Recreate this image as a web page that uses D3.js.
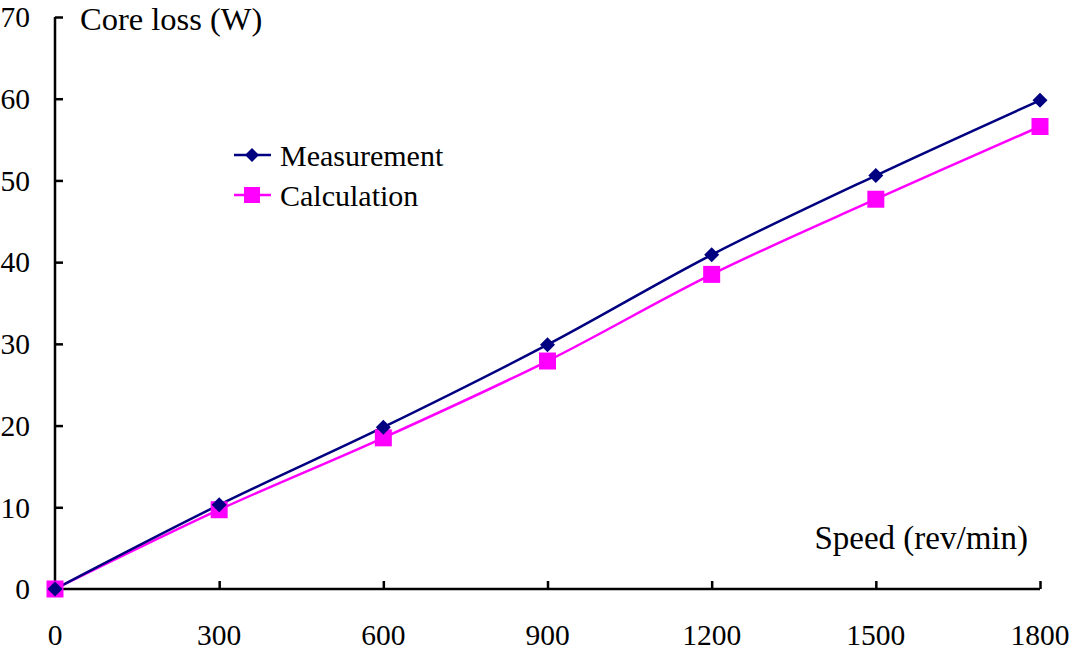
<!DOCTYPE html>
<html><head><meta charset="utf-8">
<script src="https://cdn.jsdelivr.net/npm/d3@7"></script>
<style>body{margin:0;background:#fff}svg{display:block}text{font-family:"Liberation Serif","Times New Roman",serif;fill:#000}</style>
</head><body>
<svg id="c" width="1070" height="651"></svg>
<script>
const speeds = [0, 300, 600, 900, 1200, 1500, 1800];
const measurement = [0, 10.3, 19.8, 29.9, 40.9, 50.6, 59.8];
const calculation = [0, 9.7, 18.5, 27.9, 38.5, 47.7, 56.6];
const xTicks = [0, 300, 600, 900, 1200, 1500, 1800];
const yTicks = [0, 10, 20, 30, 40, 50, 60, 70];

const svg = d3.select("#c");
const x = d3.scaleLinear().domain([0, 1800]).range([55, 1040]);
const y = d3.scaleLinear().domain([0, 70]).range([589, 17]);
const fs = 29.5;

// axes
const yAx = svg.append("g").attr("transform","translate(55,0)")
  .call(d3.axisRight(y).tickValues(yTicks).tickSize(8).tickFormat(""));
yAx.select(".domain").attr("d", `M0,${y(70)}V${y(0)}`).attr("stroke","#000").attr("stroke-width",2.5);
yAx.selectAll(".tick line").attr("stroke","#000").attr("stroke-width",2.5);
yAx.selectAll(".tick").filter(d=>d===0).remove();

const xAx = svg.append("g").attr("transform","translate(0,589)")
  .call(d3.axisTop(x).tickValues(xTicks).tickSize(8).tickFormat(""));
xAx.select(".domain").attr("d", `M${x(0)},0H${x(1800)}`).attr("stroke","#000").attr("stroke-width",2.5);
xAx.selectAll(".tick line").attr("stroke","#000").attr("stroke-width",2.5);
xAx.selectAll(".tick").filter(d=>d===0).remove();

// tick labels
svg.append("g").selectAll("text").data(yTicks).join("text")
  .attr("x", 30).attr("y", d=>y(d)).attr("dy","0.35em").attr("text-anchor","end")
  .attr("font-size", fs).text(d=>d);
svg.append("g").selectAll("text").data(xTicks).join("text")
  .attr("x", d=>x(d)).attr("y", 645).attr("text-anchor","middle")
  .attr("font-size", fs).text(d=>d);

// axis titles
svg.append("text").attr("x", 80).attr("y", 29.5).attr("font-size", 32.5).text("Core loss (W)");
svg.append("text").attr("x", 1028).attr("y", 549).attr("text-anchor","end").attr("font-size", 33).text("Speed (rev/min)");

const line = d3.line().x(d=>x(d[0])).y(d=>y(d[1])).curve(d3.curveCatmullRom.alpha(0.5));
const series = [
  {name:"Measurement", vals: measurement, color:"#000080", marker:"diamond"},
  {name:"Calculation", vals: calculation, color:"#ff00ff", marker:"square"}
];
const diamond = s => `M0,${-s}L${s},0L0,${s}L${-s},0Z`;
const square = s => `M${-s},${-s}H${s}V${s}H${-s}Z`;

series.slice().reverse().forEach(s=>{
  const pts = speeds.map((v,i)=>[v, s.vals[i]]);
  svg.append("path").attr("d", line(pts)).attr("fill","none").attr("stroke", s.color).attr("stroke-width", 2.5);
});
series.slice().reverse().forEach(s=>{
  const pts = speeds.map((v,i)=>[v, s.vals[i]]);
  svg.append("g").selectAll("path").data(pts).join("path")
    .attr("transform", d=>`translate(${x(d[0])},${y(d[1])})`)
    .attr("d", s.marker==="diamond" ? diamond(7.5) : square(8.5))
    .attr("fill", s.color);
});

// legend
series.forEach((s,i)=>{
  const ly = 155 + i*40;
  const g = svg.append("g");
  g.append("line").attr("x1",234).attr("x2",271).attr("y1",ly).attr("y2",ly).attr("stroke",s.color).attr("stroke-width",2.5);
  g.append("path").attr("transform",`translate(252,${ly})`).attr("d", s.marker==="diamond"?diamond(7):square(8)).attr("fill",s.color);
  g.append("text").attr("x",280).attr("y",ly).attr("dy","0.35em").attr("font-size",30).text(s.name);
});
</script>
</body></html>
